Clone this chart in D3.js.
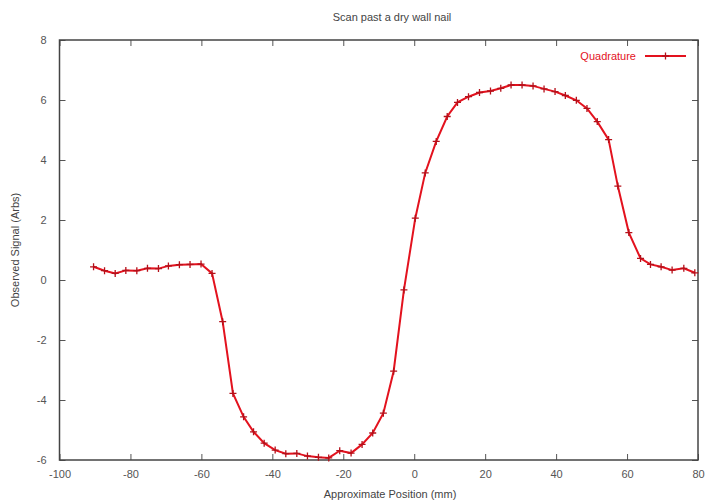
<!DOCTYPE html>
<html>
<head>
<meta charset="utf-8">
<script src="https://cdn.jsdelivr.net/npm/d3@7"></script>
<style>
  body { margin: 0; background: #fff; }
  svg { display: block; font-family: "Liberation Sans", Arial, sans-serif; }
  .tick-label { font-size: 11px; fill: #555; }
</style>
</head>
<body>
<svg id="chart" width="705" height="502"></svg>
<script>
// positions (mm) and observed signal
const positions = [-90.4, -87.3, -84.3, -81.3, -78.2, -75.2, -72.1, -69.3, -66.2, -63.2,
  -60.1, -57.0, -54.0, -51.1, -48.1, -45.3, -42.3, -39.2, -36.2, -33.1,
  -30.1, -27.0, -24.1, -21.0, -17.8, -14.7, -11.7, -8.7, -5.8, -2.9,
  0.3, 3.1, 6.2, 9.3, 12.2, 15.3, 18.4, 21.5, 24.4, 27.3,
  30.4, 33.5, 36.6, 39.7, 42.6, 45.7, 48.7, 51.6, 54.8, 57.4,
  60.5, 63.8, 66.6, 69.6, 72.7, 76.0, 79.1];
const quadrature = [0.44, 0.31, 0.22, 0.32, 0.31, 0.39, 0.38, 0.47, 0.51, 0.52,
  0.53, 0.22, -1.39, -3.78, -4.56, -5.06, -5.44, -5.67, -5.79, -5.78,
  -5.87, -5.91, -5.93, -5.69, -5.77, -5.48, -5.10, -4.44, -3.04, -0.33,
  2.06, 3.57, 4.62, 5.45, 5.92, 6.11, 6.25, 6.30, 6.39, 6.50,
  6.50, 6.47, 6.37, 6.28, 6.15, 5.99, 5.72, 5.28, 4.68, 3.13,
  1.58, 0.72, 0.52, 0.44, 0.33, 0.39, 0.24];
const xTicks = [-100, -80, -60, -40, -20, 0, 20, 40, 60, 80];
const yTicks = [-6, -4, -2, 0, 2, 4, 6, 8];

const width = 705, height = 502;
const margin = { top: 40, right: 7, bottom: 42, left: 59.5 };
const lineColor = '#e3121e';

const svg = d3.select('#chart');
const plotW = width - margin.left - margin.right;
const plotH = height - margin.top - margin.bottom;

const x = d3.scaleLinear().domain([-100, 80]).range([0, plotW]);
const y = d3.scaleLinear().domain([-6, 8]).range([plotH, 0]);

const g = svg.append('g').attr('transform', `translate(${margin.left},${margin.top})`);

// plain hyphen for negatives, like gnuplot
const fmt = d => String(d);

// inward ticks on all four sides, gnuplot style
const tickLen = 6;
const axisStyle = sel => {
  sel.select('.domain').remove();
  sel.selectAll('line').attr('stroke', '#555').attr('stroke-width', 1);
  sel.selectAll('text').attr('class', 'tick-label').attr('fill', '#555');
};

g.append('g')
  .attr('transform', `translate(0,${plotH})`)
  .call(d3.axisBottom(x).tickValues(xTicks).tickSize(-tickLen).tickPadding(10).tickFormat(fmt))
  .call(axisStyle);
g.append('g')
  .call(d3.axisTop(x).tickValues(xTicks).tickSize(-tickLen).tickFormat(''))
  .call(axisStyle);
g.append('g')
  .call(d3.axisLeft(y).tickValues(yTicks).tickSize(-tickLen).tickPadding(13).tickFormat(fmt))
  .call(axisStyle);
g.append('g')
  .attr('transform', `translate(${plotW},0)`)
  .call(d3.axisRight(y).tickValues(yTicks).tickSize(-tickLen).tickFormat(''))
  .call(axisStyle);

// border
g.append('rect')
  .attr('width', plotW).attr('height', plotH)
  .attr('fill', 'none').attr('stroke', '#444').attr('stroke-width', 1.5);

// data line
const line = d3.line().x((d, i) => x(positions[i])).y(d => y(d));
g.append('path')
  .datum(quadrature)
  .attr('fill', 'none')
  .attr('stroke', lineColor)
  .attr('stroke-width', 2)
  .attr('d', line);

// "+" markers
const m = 3.5;
const cross = (sel) => sel.append('path')
  .attr('d', `M${-m},0H${m}M0,${-m}V${m}`)
  .attr('stroke', '#b5101a')
  .attr('stroke-width', 1.3);
g.selectAll('.pt')
  .data(quadrature)
  .join('g')
  .attr('class', 'pt')
  .attr('transform', (d, i) => `translate(${x(positions[i])},${y(d)})`)
  .call(cross);

// legend
const lg = svg.append('g').attr('transform', 'translate(0,56)');
lg.append('text')
  .attr('x', 636).attr('y', 4)
  .attr('text-anchor', 'end')
  .attr('font-size', 11)
  .attr('fill', lineColor)
  .text('Quadrature');
lg.append('line')
  .attr('x1', 645).attr('x2', 686)
  .attr('stroke', lineColor).attr('stroke-width', 2);
lg.append('g').attr('transform', 'translate(665.5,0)').call(cross);

// titles
svg.append('text')
  .attr('x', 392).attr('y', 21)
  .attr('text-anchor', 'middle')
  .attr('font-size', 11).attr('fill', '#444')
  .text('Scan past a dry wall nail');
svg.append('text')
  .attr('x', 390).attr('y', 498)
  .attr('text-anchor', 'middle')
  .attr('font-size', 11).attr('fill', '#444')
  .text('Approximate Position (mm)');
svg.append('text')
  .attr('transform', 'translate(19,250) rotate(-90)')
  .attr('text-anchor', 'middle')
  .attr('font-size', 11).attr('fill', '#444')
  .text('Observed Signal (Arbs)');
</script>
</body>
</html>
